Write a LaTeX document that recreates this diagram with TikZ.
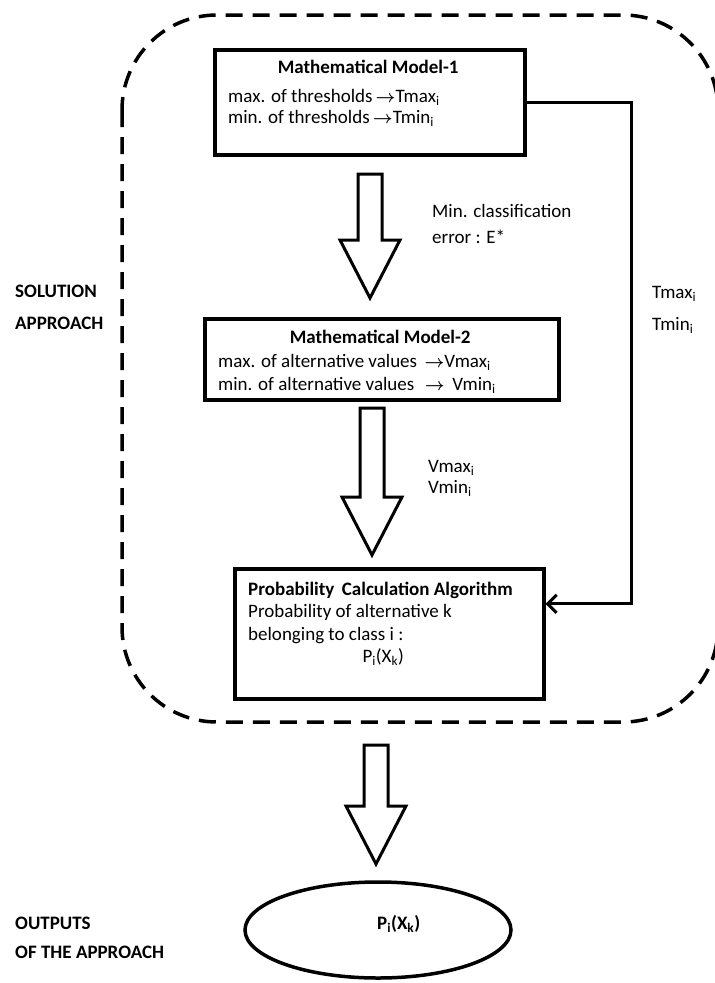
\documentclass[tikz,border=0pt]{standalone}
\usepackage{fontspec}
\setmainfont{Carlito}
\usetikzlibrary{arrows.meta,shapes.geometric,calc}
\tikzset{
  modelbox/.style={draw, line width=3.5pt, rectangle, anchor=north west, inner sep=0pt},
  boxtext/.style={anchor=north west, align=left, inner sep=0pt},
  lbl/.style={anchor=base west, inner sep=0pt, font=\fontsize{19}{22}\selectfont},
  sidelbl/.style={anchor=base west, inner sep=0pt, font=\fontsize{19}{22}\selectfont\bfseries},
  blockarrow/.style={draw, line width=3pt, fill=white, line join=miter},
  connector/.style={line width=3pt, -{Straight Barb[length=9pt,width=18pt]}},
  dashbox/.style={line width=3.5pt, dash pattern=on 17pt off 10pt, rounded corners=95pt}
}
\newcommand{\downblock}[3]{% centre x, top y, tip y
  \draw[blockarrow] (#1-12,#2) -- (#1+12,#2) -- (#1+12,#3-58) -- (#1+30,#3-58) -- (#1,#3)
    -- (#1-30,#3-58) -- (#1-12,#3-58) -- cycle;}
\newcommand{\goesto}{\,{\boldmath$\rightarrow$}}
\begin{document}
\begin{tikzpicture}[x=1pt,y=-1pt]
	\useasboundingbox (0,0) rectangle (715,983);
	% the solution approach
	\draw[dashbox] (122,15) rectangle (718,722);
	\node[sidelbl] (sol) at (15,297) {SOLUTION};
	\node[sidelbl] (app) at (15,329) {APPROACH};
	% model 1
	\node[modelbox, minimum width=310, minimum height=105] (mm1) at (213,48) {};
	\node[boxtext, font=\fontsize{19}{21}\selectfont] (mm1t) at (228,60) {\hbox to 280pt{\hfil\bfseries Mathematical Model-1\hfil}\\[8pt]
		max. of thresholds\goesto Tmax\textsubscript{i}\\
		min. of thresholds\goesto Tmin\textsubscript{i}};
	\downblock{370}{174}{298}
	\node[lbl] (err1) at (432,217) {Min. classification};
	\node[lbl] (err2) at (432,243) {error : E*};
	% model 2
	\node[modelbox, minimum width=354, minimum height=81] (mm2) at (203,317) {};
	\node[boxtext, font=\fontsize{19}{23}\selectfont] (mm2t) at (218,329.5) {\hbox to 324pt{\hfil\bfseries Mathematical Model-2\hfil}\\[1pt]
		max. of alternative values \goesto Vmax\textsubscript{i}\\
		min. of alternative values \,\goesto\, Vmin\textsubscript{i}};
	\downblock{372}{408}{555}
	\node[lbl] (vmax) at (428,472) {Vmax\textsubscript{i}};
	\node[lbl] (vmin) at (428,493) {Vmin\textsubscript{i}};
	% probability algorithm
	\node[modelbox, minimum width=309, minimum height=130] (pc) at (233,567) {};
	\node[boxtext, font=\fontsize{19}{22.5}\selectfont] (pct) at (248,581.5) {\textbf{Probability\, Calculation Algorithm}\\
		Probability of alternative k\\
		belonging to class i :\\
		\hbox to 270pt{\hfil P\textsubscript{i}(X\textsubscript{k})\hfil}};
	% thresholds fed to the algorithm
	\draw[connector] (mm1.east) -| ($(pc.east)+(86,-30)$) -- ($(pc.east)+(0,-30)$);
	\node[lbl] (tmax) at (652,298) {Tmax\textsubscript{i}};
	\node[lbl] (tmin) at (652,330) {Tmin\textsubscript{i}};
	% outputs
	\downblock{376}{745}{864}
	\node[draw, ellipse, line width=3.5pt, minimum width=266, minimum height=96] (out) at (378,930) {};
	\node[sidelbl] (outt) at (377,929) {P\textsubscript{i}(X\textsubscript{k})};
	\node[sidelbl] (outp) at (15,929) {OUTPUTS};
	\node[sidelbl] (outa) at (15,958) {OF THE APPROACH};
\end{tikzpicture}
\end{document}
